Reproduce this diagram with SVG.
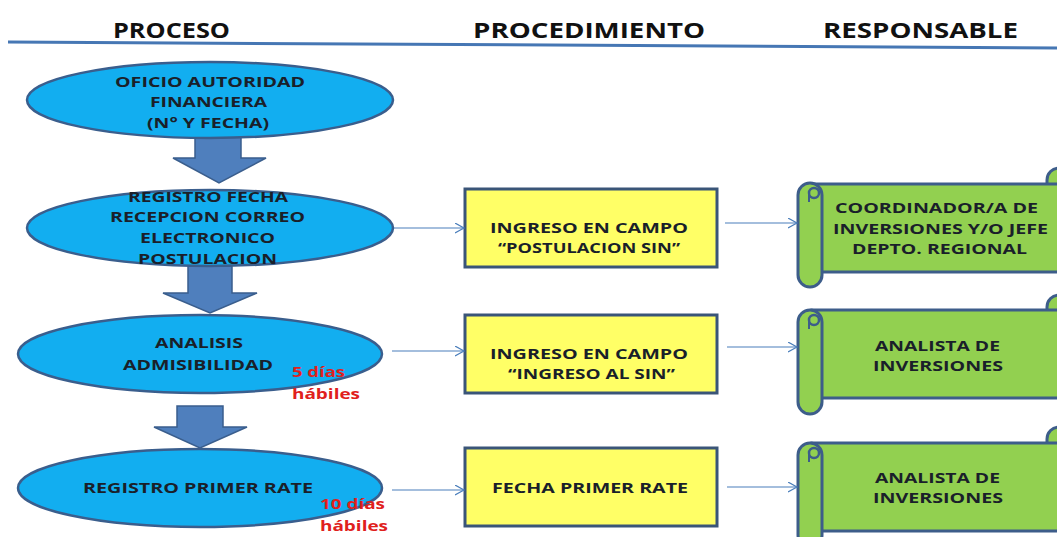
<svg xmlns="http://www.w3.org/2000/svg" width="1057" height="537" viewBox="0 0 1057 537">
<defs>
<style>
.hdr{font-family:"Open Sans","Liberation Sans",sans-serif;font-weight:bold;font-size:22px;fill:#111}
.t{font-family:"Open Sans","Liberation Sans",sans-serif;font-weight:bold;font-size:15px;fill:#1a1f2a}
.r{font-family:"Open Sans","Liberation Sans",sans-serif;font-weight:bold;font-size:15px;fill:#e0201c}
.ell{fill:#12aef0;stroke:#3a5e8d;stroke-width:2.5}
.blk{fill:#4f7fbd;stroke:#3a5e8d;stroke-width:1.5}
.box{fill:#ffff66;stroke:#3a5578;stroke-width:3}
.scr{fill:#92d050;stroke:#3d5d8a;stroke-width:3}
.curl{fill:#92d050;stroke:#3d5d8a;stroke-width:2.5}
.con{stroke:#4a7ebb;stroke-width:1.2;fill:none;marker-end:url(#open)}
</style>
<marker id="open" markerUnits="userSpaceOnUse" markerWidth="12" markerHeight="12" refX="9" refY="5" orient="auto">
<path d="M0,0 L9,5 L0,10" fill="none" stroke="#4a7ebb" stroke-width="1.2"/>
</marker>
</defs>
<rect width="1057" height="537" fill="#fff"/>

<g id="headers">
<text class="hdr" x="113" y="38" textLength="117" lengthAdjust="spacingAndGlyphs">PROCESO</text>
<text class="hdr" x="473" y="38" textLength="232" lengthAdjust="spacingAndGlyphs">PROCEDIMIENTO</text>
<text class="hdr" x="823" y="38" textLength="195" lengthAdjust="spacingAndGlyphs">RESPONSABLE</text>
<path d="M8,42 L1057,48" stroke="#4677b4" stroke-width="3" fill="none"/>
</g>

<g id="block-arrows">
<polygon class="blk" points="195,136 241,136 241,158 266,158 219,183 173,158 195,158"/>
<polygon class="blk" points="188,266 232,266 232,293 257,293 210,313 163,293 188,293"/>
<polygon class="blk" points="177,406 223,406 223,427 247,427 200,448 154,427 177,427"/>
</g>

<g id="p1">
<ellipse class="ell" cx="210" cy="100" rx="183" ry="38"/>
<text class="t" x="115" y="87" textLength="190" lengthAdjust="spacingAndGlyphs">OFICIO AUTORIDAD</text>
<text class="t" x="150" y="107" textLength="117" lengthAdjust="spacingAndGlyphs">FINANCIERA</text>
<text class="t" x="147" y="128" textLength="122" lengthAdjust="spacingAndGlyphs">(N° Y FECHA)</text>
</g>

<g id="p2">
<ellipse class="ell" cx="210" cy="228" rx="183" ry="38"/>
<text class="t" x="128" y="202" textLength="160" lengthAdjust="spacingAndGlyphs">REGISTRO FECHA</text>
<text class="t" x="110" y="222" textLength="195" lengthAdjust="spacingAndGlyphs">RECEPCION CORREO</text>
<text class="t" x="140" y="243" textLength="135" lengthAdjust="spacingAndGlyphs">ELECTRONICO</text>
<text class="t" x="138" y="264" textLength="139" lengthAdjust="spacingAndGlyphs">POSTULACION</text>
</g>

<g id="p3">
<ellipse class="ell" cx="200" cy="354" rx="182" ry="39"/>
<text class="t" x="155" y="348" textLength="88" lengthAdjust="spacingAndGlyphs">ANALISIS</text>
<text class="t" x="123" y="370" textLength="150" lengthAdjust="spacingAndGlyphs">ADMISIBILIDAD</text>
<text class="r" x="292" y="377" textLength="53" lengthAdjust="spacingAndGlyphs">5 días</text>
<text class="r" x="292" y="399" textLength="68" lengthAdjust="spacingAndGlyphs">hábiles</text>
</g>

<g id="p4">
<ellipse class="ell" cx="200" cy="488" rx="182" ry="39"/>
<text class="t" x="83" y="493" textLength="230" lengthAdjust="spacingAndGlyphs">REGISTRO PRIMER RATE</text>
<text class="r" x="320" y="509" textLength="65" lengthAdjust="spacingAndGlyphs">10 días</text>
<text class="r" x="320" y="531" textLength="68" lengthAdjust="spacingAndGlyphs">hábiles</text>
</g>

<g id="q1">
<rect class="box" x="465" y="189" width="252" height="78"/>
<text class="t" x="490" y="233" textLength="198" lengthAdjust="spacingAndGlyphs">INGRESO EN CAMPO</text>
<text class="t" x="498" y="253" textLength="182" lengthAdjust="spacingAndGlyphs">“POSTULACION SIN”</text>
</g>
<g id="q2">
<rect class="box" x="465" y="315" width="252" height="78"/>
<text class="t" x="490" y="359" textLength="198" lengthAdjust="spacingAndGlyphs">INGRESO EN CAMPO</text>
<text class="t" x="508" y="379" textLength="167" lengthAdjust="spacingAndGlyphs">“INGRESO AL SIN”</text>
</g>
<g id="q3">
<rect class="box" x="465" y="448" width="252" height="78"/>
<text class="t" x="492" y="493" textLength="196" lengthAdjust="spacingAndGlyphs">FECHA PRIMER RATE</text>
</g>

<g id="s1">
<rect class="scr" x="1047" y="168" width="24" height="30" rx="12"/>
<rect class="scr" x="812" y="184" width="262" height="88"/>
<rect class="scr" x="798" y="183" width="24" height="104" rx="12"/>
<circle class="curl" cx="814" cy="193" r="5"/>
<path d="M809,193 L809,202" fill="none" stroke="#3d5d8a" stroke-width="2"/>
<text class="t" x="835" y="213" textLength="203" lengthAdjust="spacingAndGlyphs">COORDINADOR/A DE</text>
<text class="t" x="833" y="234" textLength="215" lengthAdjust="spacingAndGlyphs">INVERSIONES Y/O JEFE</text>
<text class="t" x="852" y="254" textLength="175" lengthAdjust="spacingAndGlyphs">DEPTO. REGIONAL</text>
</g>
<g id="s2">
<rect class="scr" x="1047" y="295" width="24" height="30" rx="12"/>
<rect class="scr" x="812" y="310" width="262" height="88"/>
<rect class="scr" x="798" y="310" width="24" height="104" rx="12"/>
<circle class="curl" cx="814" cy="320" r="5"/>
<path d="M809,320 L809,329" fill="none" stroke="#3d5d8a" stroke-width="2"/>
<text class="t" x="875" y="351" textLength="125" lengthAdjust="spacingAndGlyphs">ANALISTA DE</text>
<text class="t" x="873" y="371" textLength="130" lengthAdjust="spacingAndGlyphs">INVERSIONES</text>
</g>
<g id="s3">
<rect class="scr" x="1047" y="427" width="24" height="30" rx="12"/>
<rect class="scr" x="812" y="443" width="262" height="88"/>
<rect class="scr" x="798" y="443" width="24" height="104" rx="12"/>
<circle class="curl" cx="814" cy="453" r="5"/>
<path d="M809,453 L809,462" fill="none" stroke="#3d5d8a" stroke-width="2"/>
<text class="t" x="875" y="483" textLength="125" lengthAdjust="spacingAndGlyphs">ANALISTA DE</text>
<text class="t" x="873" y="503" textLength="130" lengthAdjust="spacingAndGlyphs">INVERSIONES</text>
</g>

<g id="connectors">
<line class="con" x1="394" y1="228" x2="464" y2="228"/>
<line class="con" x1="725" y1="223" x2="797" y2="223"/>
<line class="con" x1="392" y1="351" x2="464" y2="351"/>
<line class="con" x1="727" y1="347" x2="797" y2="347"/>
<line class="con" x1="392" y1="490" x2="464" y2="490"/>
<line class="con" x1="727" y1="487" x2="797" y2="487"/>
</g>
</svg>
